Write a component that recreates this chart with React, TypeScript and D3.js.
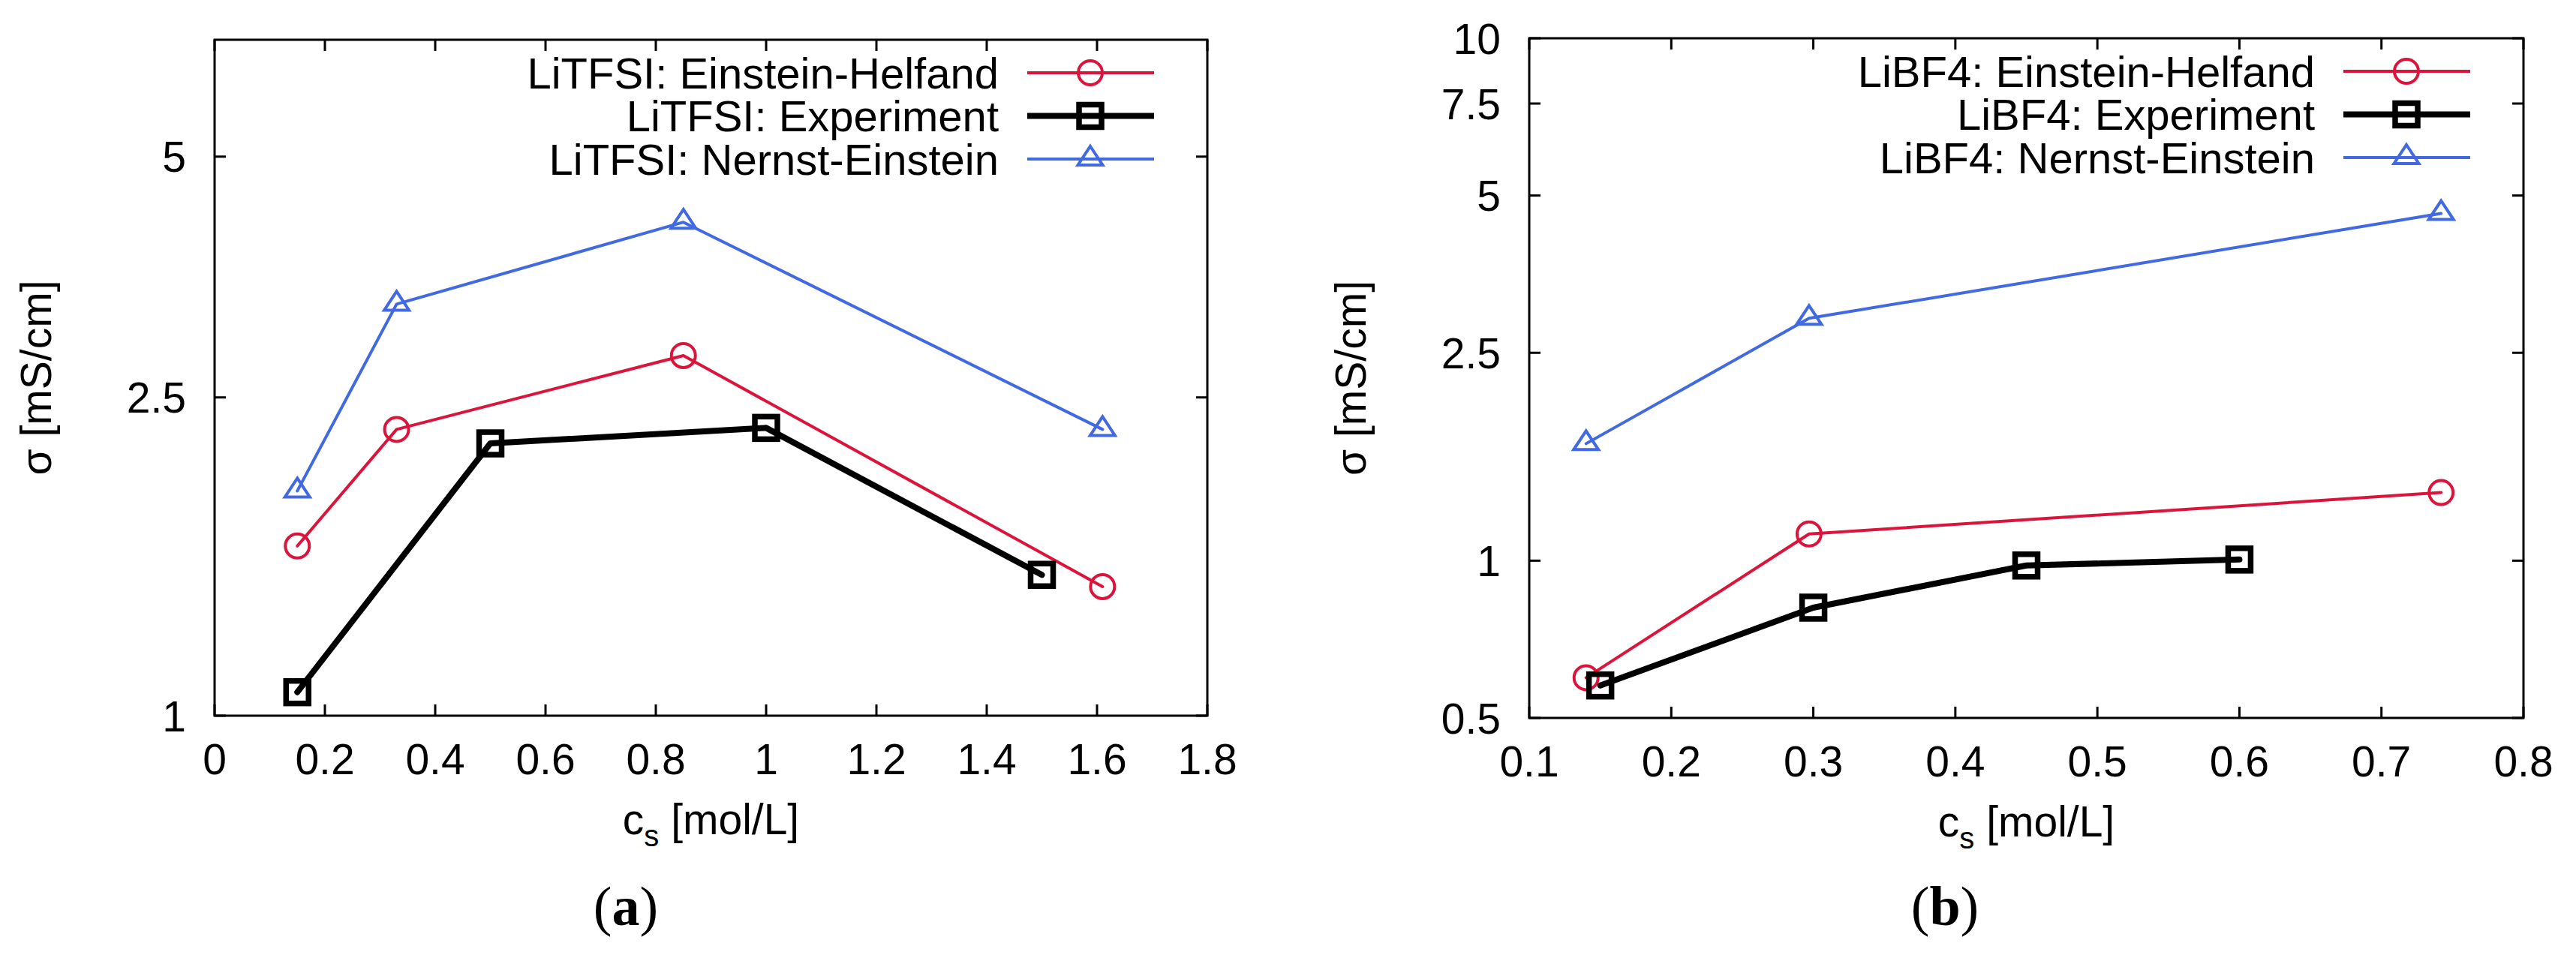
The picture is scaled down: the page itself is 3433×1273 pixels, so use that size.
import React from "react";
import * as d3 from "d3";

// LiTFSI panel (a)
const litfsiSimX = [0.15, 0.33, 0.85, 1.61];
const litfsiEinsteinHelfand = [1.63, 2.28, 2.82, 1.45];
const litfsiNernstEinstein = [1.91, 3.27, 4.14, 2.28];
const litfsiExpX = [0.15, 0.5, 1.0, 1.5];
const litfsiExperiment = [1.07, 2.19, 2.29, 1.5];
const litfsiXTicks = [0, 0.2, 0.4, 0.6, 0.8, 1, 1.2, 1.4, 1.6, 1.8];
const litfsiYTicks = [1, 2.5, 5];

// LiBF4 panel (b)
const libf4SimX = [0.14, 0.297, 0.742];
const libf4EinsteinHelfand = [0.597, 1.125, 1.35];
const libf4NernstEinstein = [1.675, 2.91, 4.62];
const libf4ExpX = [0.15, 0.3, 0.45, 0.6];
const libf4Experiment = [0.577, 0.813, 0.979, 1.005];
const libf4XTicks = [0.1, 0.2, 0.3, 0.4, 0.5, 0.6, 0.7, 0.8];
const libf4YTicks = [0.5, 1, 2.5, 5, 7.5, 10];

const RED = "#dc143c";
const BLUE = "#4169e1";
const BLACK = "#000000";
const SANS = "'Liberation Sans', Arial, Helvetica, sans-serif";
const SERIF = "'Liberation Serif', 'Times New Roman', serif";

type Marker = "circle" | "square" | "triangle";

interface Series {
  label: string;
  xs: number[];
  ys: number[];
  color: string;
  width: number;
  marker: Marker;
}

interface PanelProps {
  frame: { left: number; right: number; top: number; bottom: number };
  xDomain: [number, number];
  yDomain: [number, number];
  xTicks: number[];
  yTicks: number[];
  series: Series[];
  caption: string;
  captionX: number;
}

const MarkerShape: React.FC<{ kind: Marker; x: number; y: number; color: string }> = ({
  kind,
  x,
  y,
  color,
}) => {
  if (kind === "circle") {
    return <circle cx={x} cy={y} r={16} fill="none" stroke={color} strokeWidth={4} />;
  }
  if (kind === "square") {
    return (
      <rect x={x - 15} y={y - 15} width={30} height={30} fill="none" stroke={color} strokeWidth={7.5} />
    );
  }
  return (
    <path
      d={`M${x},${y - 17}L${x + 16.5},${y + 8}L${x - 16.5},${y + 8}Z`}
      fill="none"
      stroke={color}
      strokeWidth={4}
      strokeLinejoin="miter"
    />
  );
};

const Panel: React.FC<PanelProps> = ({
  frame,
  xDomain,
  yDomain,
  xTicks,
  yTicks,
  series,
  caption,
  captionX,
}) => {
  const x = d3.scaleLinear().domain(xDomain).range([frame.left, frame.right]);
  const y = d3.scaleLog().domain(yDomain).range([frame.bottom, frame.top]);
  const tickLen = 15;
  const cx = (frame.left + frame.right) / 2;
  const cy = (frame.top + frame.bottom) / 2;
  const line = d3
    .line<[number, number]>()
    .x((d) => x(d[0]))
    .y((d) => y(d[1]));

  return (
    <g>
      {/* ticks, mirrored on all sides */}
      {xTicks.map((t) => (
        <g key={`xt${t}`}>
          <line x1={x(t)} x2={x(t)} y1={frame.bottom} y2={frame.bottom - tickLen} stroke="#000" strokeWidth={3} />
          <line x1={x(t)} x2={x(t)} y1={frame.top} y2={frame.top + tickLen} stroke="#000" strokeWidth={3} />
          <text x={x(t)} y={frame.bottom + 78} textAnchor="middle" fontFamily={SANS} fontSize={57}>
            {String(t)}
          </text>
        </g>
      ))}
      {yTicks.map((t) => (
        <g key={`yt${t}`}>
          <line x1={frame.left} x2={frame.left + tickLen} y1={y(t)} y2={y(t)} stroke="#000" strokeWidth={3} />
          <line x1={frame.right} x2={frame.right - tickLen} y1={y(t)} y2={y(t)} stroke="#000" strokeWidth={3} />
          <text x={frame.left - 38} y={y(t)} dy="0.36em" textAnchor="end" fontFamily={SANS} fontSize={57}>
            {String(t)}
          </text>
        </g>
      ))}

      <rect
        x={frame.left}
        y={frame.top}
        width={frame.right - frame.left}
        height={frame.bottom - frame.top}
        fill="none"
        stroke="#000"
        strokeWidth={3}
      />

      {/* data */}
      {series.map((s) => {
        const pts = s.xs.map((v, i) => [v, s.ys[i]] as [number, number]);
        return (
          <g key={s.label}>
            <path
              d={line(pts) ?? ""}
              fill="none"
              stroke={s.color}
              strokeWidth={s.width}
              strokeLinejoin="round"
              strokeLinecap="round"
            />
            {pts.map((p, i) => (
              <MarkerShape key={i} kind={s.marker} x={x(p[0])} y={y(p[1])} color={s.color} />
            ))}
          </g>
        );
      })}

      {/* legend */}
      {series.map((s, i) => {
        const ly = frame.top + 44 + i * 57.5;
        return (
          <g key={`lg${s.label}`}>
            <text x={frame.right - 278} y={ly} dy="0.36em" textAnchor="end" fontFamily={SANS} fontSize={58}>
              {s.label}
            </text>
            <line
              x1={frame.right - 240}
              x2={frame.right - 71}
              y1={ly}
              y2={ly}
              stroke={s.color}
              strokeWidth={s.width}
            />
            <MarkerShape kind={s.marker} x={frame.right - 156} y={ly} color={s.color} />
          </g>
        );
      })}

      {/* axis labels */}
      <text
        transform={`translate(${frame.left - 218},${cy}) rotate(-90)`}
        textAnchor="middle"
        fontFamily={SANS}
        fontSize={57}
      >
        σ [mS/cm]
      </text>
      <text x={cx} y={frame.bottom + 158} textAnchor="middle" fontFamily={SANS} fontSize={57}>
        <tspan>c</tspan>
        <tspan fontSize={40} dy={16}>
          s
        </tspan>
        <tspan dy={-16}> [mol/L]</tspan>
      </text>

      <text x={captionX} y={1233} textAnchor="middle" fontFamily={SERIF} fontSize={74}>
        (<tspan fontWeight="bold">{caption}</tspan>)
      </text>
    </g>
  );
};

const App: React.FC = () => {
  const litfsiSeries: Series[] = [
    { label: "LiTFSI: Einstein-Helfand", xs: litfsiSimX, ys: litfsiEinsteinHelfand, color: RED, width: 4, marker: "circle" },
    { label: "LiTFSI: Experiment", xs: litfsiExpX, ys: litfsiExperiment, color: BLACK, width: 8, marker: "square" },
    { label: "LiTFSI: Nernst-Einstein", xs: litfsiSimX, ys: litfsiNernstEinstein, color: BLUE, width: 4, marker: "triangle" },
  ];
  const libf4Series: Series[] = [
    { label: "LiBF4: Einstein-Helfand", xs: libf4SimX, ys: libf4EinsteinHelfand, color: RED, width: 4, marker: "circle" },
    { label: "LiBF4: Experiment", xs: libf4ExpX, ys: libf4Experiment, color: BLACK, width: 8, marker: "square" },
    { label: "LiBF4: Nernst-Einstein", xs: libf4SimX, ys: libf4NernstEinstein, color: BLUE, width: 4, marker: "triangle" },
  ];

  return (
    <svg
      width={3433}
      height={1273}
      style={{ position: "absolute", left: 0, top: 0, background: "#fff" }}
    >
      <rect width={3433} height={1273} fill="#fff" />
      <Panel
        frame={{ left: 286, right: 1609, top: 53, bottom: 954 }}
        xDomain={[0, 1.8]}
        yDomain={[1, 7]}
        xTicks={litfsiXTicks}
        yTicks={litfsiYTicks}
        series={litfsiSeries}
        caption="a"
        captionX={834}
      />
      <Panel
        frame={{ left: 2038, right: 3363, top: 51, bottom: 957 }}
        xDomain={[0.1, 0.8]}
        yDomain={[0.5, 10]}
        xTicks={libf4XTicks}
        yTicks={libf4YTicks}
        series={libf4Series}
        caption="b"
        captionX={2592}
      />
    </svg>
  );
};

export default App;
